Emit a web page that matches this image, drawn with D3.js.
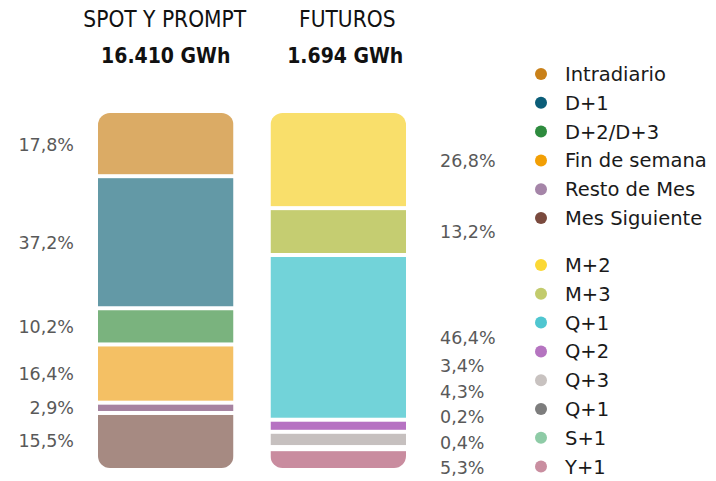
<!DOCTYPE html>
<html>
<head>
<meta charset="utf-8">
<script src="https://cdn.jsdelivr.net/npm/d3@7"></script>
<style>
  body { margin: 0; background: #fff; }
  svg { display: block; }
</style>
</head>
<body>
<script>
// datos
const groups = ["SPOT Y PROMPT", "FUTUROS"];
const totals = ["16.410 GWh", "1.694 GWh"];

const spotNames = ["Intradiario", "D+1", "D+2/D+3", "Fin de semana", "Resto de Mes", "Mes Siguiente"];
const spotValues = [17.8, 37.2, 10.2, 16.4, 2.9, 15.5];

const futNames = ["M+2", "M+3", "Q+1", "Q+2", "Q+3", "Q+1", "S+1", "Y+1"];
const futValues = [26.8, 13.2, 46.4, 3.4, 4.3, 0.2, 0.4, 5.3];

// colores (punto de leyenda / barra)
const spotDot = ["#c98119", "#0b5d78", "#2e8b3e", "#f29f05", "#a585a8", "#7a4a3e"];
const spotBar = ["#dbab65", "#6399a6", "#7ab37e", "#f4c064", "#a683a1", "#a68a82"];
const futDot = ["#fbd835", "#c2cb6c", "#4fc6d0", "#b574c0", "#c8c2c0", "#7d7d7d", "#8ecba6", "#c98ea0"];
const futBar = ["#f9df6b", "#c5cd71", "#72d3d9", "#b672c2", "#c6c0bf", "#8a8a8a", "#9fd3b3", "#c98c9f"];

const W = 716, H = 481;
const svg = d3.select("body").append("svg")
  .attr("width", W)
  .attr("height", H);

const x = d3.scaleBand()
  .domain(groups)
  .range([98, 406])
  .paddingInner(0.2145);

const y = d3.scaleLinear()
  .domain([0, 100])
  .range([113, 468]);

const gap = 4;
const radius = 12;

const series = [
  { names: spotNames, values: spotValues, bar: spotBar, side: "left" },
  { names: futNames, values: futValues, bar: futBar, side: "right" }
];

// etiquetas sin solaparse: agrupa en clusters
function placeLabels(centers, minGap, lo, hi) {
  let clusters = centers.map((c, i) => ({ idx: [i], nat: [c] }));
  const layout = cl => {
    const mean = d3.mean(cl.nat);
    let start = mean - (cl.idx.length - 1) * minGap / 2;
    let end = start + (cl.idx.length - 1) * minGap;
    if (end > hi) start -= end - hi;
    if (start < lo) start = lo;
    cl.start = start;
    cl.end = start + (cl.idx.length - 1) * minGap;
  };
  clusters.forEach(layout);
  let merged = true;
  while (merged) {
    merged = false;
    for (let i = 0; i < clusters.length - 1; i++) {
      if (clusters[i + 1].start - clusters[i].end < minGap) {
        const a = clusters[i], b = clusters[i + 1];
        const c = { idx: a.idx.concat(b.idx), nat: a.nat.concat(b.nat) };
        layout(c);
        clusters.splice(i, 2, c);
        merged = true;
        break;
      }
    }
  }
  const out = [];
  clusters.forEach(cl => cl.idx.forEach((id, k) => out[id] = cl.start + k * minGap));
  return out;
}

series.forEach((s, gi) => {
  const name = groups[gi];
  const bx = x(name), bw = x.bandwidth();
  const top = y(0), bottom = y(100);

  // clip redondeado
  svg.append("clipPath")
    .attr("id", "clip" + gi)
    .append("rect")
    .attr("x", bx).attr("y", top)
    .attr("width", bw).attr("height", bottom - top)
    .attr("rx", radius).attr("ry", radius);

  let cum = 0;
  const segs = s.values.map((v, i) => {
    const d = { v: v, i: i, y0: cum, y1: cum + v };
    cum += v;
    return d;
  });

  svg.append("g")
    .attr("clip-path", `url(#clip${gi})`)
    .selectAll("rect")
    .data(segs)
    .enter()
    .append("rect")
    .attr("x", bx)
    .attr("width", bw)
    .attr("y", d => y(d.y0) + (d.i === 0 ? 0 : gap / 2))
    .attr("height", d => {
      const a = y(d.y0) + (d.i === 0 ? 0 : gap / 2);
      const b = y(d.y1) - (d.i === segs.length - 1 ? 0 : gap / 2);
      return Math.max(0, b - a);
    })
    .attr("fill", d => s.bar[d.i]);

  // porcentajes
  const centers = segs.map(d => y((d.y0 + d.y1) / 2));
  const pos = placeLabels(centers, 25.5, 120, 468);
  svg.append("g")
    .selectAll("text")
    .data(segs)
    .enter()
    .append("text")
    .attr("x", s.side === "left" ? 74 : 440)
    .attr("y", d => pos[d.i])
    .attr("dy", "0.36em")
    .attr("text-anchor", s.side === "left" ? "end" : "start")
    .attr("font-family", "DejaVu Sans")
    .attr("font-size", 17.5)
    .attr("fill", "#595959")
    .text(d => d.v.toFixed(1).replace(".", ",") + "%");

  // titulos
  const cx = bx + bw / 2 + (gi === 0 ? -1 : 9);
  svg.append("text")
    .attr("x", cx)
    .attr("y", 27)
    .attr("text-anchor", "middle")
    .attr("font-family", "DejaVu Sans Condensed, DejaVu Sans")
    .attr("font-stretch", "condensed")
    .attr("font-size", 22.5)
    .attr("fill", "#111")
    .text(name);
  svg.append("text")
    .attr("x", bx + bw / 2 + (gi === 0 ? 0 : 7))
    .attr("y", 63)
    .attr("text-anchor", "middle")
    .attr("font-family", "DejaVu Sans Condensed, DejaVu Sans")
    .attr("font-stretch", "condensed")
    .attr("font-weight", "bold")
    .attr("font-size", 21)
    .attr("fill", "#111")
    .text(totals[gi]);
});

// leyenda
const legendItems = spotNames.map((n, i) => ({ name: n, color: spotDot[i], row: i, grp: 0 }))
  .concat(futNames.map((n, i) => ({ name: n, color: futDot[i], row: i, grp: 1 })));

const legend = svg.append("g")
  .selectAll("g")
  .data(legendItems)
  .enter()
  .append("g")
  .attr("transform", d => `translate(541,${(d.grp === 0 ? 74 : 265) + d.row * 28.8})`);

legend.append("circle")
  .attr("r", 6)
  .attr("fill", d => d.color);

legend.append("text")
  .attr("x", 24)
  .attr("dy", "0.36em")
  .attr("font-family", "DejaVu Sans")
  .attr("font-size", 19.5)
  .attr("fill", "#1a1a1a")
  .text(d => d.name);
</script>
</body>
</html>
